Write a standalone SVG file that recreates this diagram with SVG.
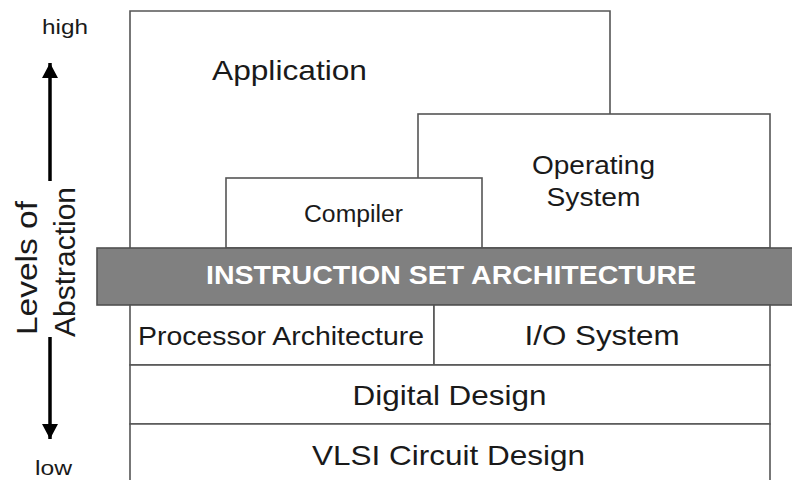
<svg xmlns="http://www.w3.org/2000/svg" width="792" height="480" viewBox="0 0 792 480">
<defs>
<style>
.box{fill:#ffffff;stroke:#555555;stroke-width:1.6}
.t{font-family:"Liberation Sans",Arial,sans-serif;fill:#1a1a1a;text-anchor:middle}
.arrow{stroke:#000;stroke-width:3.5;fill:none}
</style>
<marker id="ah" viewBox="0 0 15 16" refX="15" refY="8" markerWidth="15" markerHeight="16" markerUnits="userSpaceOnUse" orient="auto">
<path d="M0,0 L15,8 L0,16 z" fill="#000"/>
</marker>
</defs>
<rect width="792" height="480" fill="#ffffff"/>
<g id="application">
<path class="box" d="M130,248 L130,11 L610,11 L610,114"/>
<text class="t" x="289.5" y="80" font-size="28" textLength="155" lengthAdjust="spacingAndGlyphs">Application</text>
</g>
<g id="operating-system">
<rect class="box" x="418" y="114" width="352" height="134"/>
<text class="t" x="593.5" y="174" font-size="26" textLength="123" lengthAdjust="spacingAndGlyphs">Operating</text>
<text class="t" x="593.5" y="206" font-size="26" textLength="94" lengthAdjust="spacingAndGlyphs">System</text>
</g>
<g id="compiler">
<rect class="box" x="226" y="178" width="256" height="70"/>
<text class="t" x="353.5" y="222" font-size="23" textLength="99" lengthAdjust="spacingAndGlyphs">Compiler</text>
</g>
<g id="isa">
<rect x="97" y="248" width="700" height="57" fill="#808080" stroke="#505050" stroke-width="1.6"/>
<text class="t" x="451" y="284" font-size="25" font-weight="bold" style="fill:#ffffff" textLength="490" lengthAdjust="spacingAndGlyphs">INSTRUCTION SET ARCHITECTURE</text>
</g>
<g id="processor-architecture">
<rect class="box" x="130" y="305" width="304" height="60"/>
<text class="t" x="281" y="345" font-size="25" textLength="286" lengthAdjust="spacingAndGlyphs">Processor Architecture</text>
</g>
<g id="io-system">
<rect class="box" x="434" y="305" width="336" height="60"/>
<text class="t" x="602" y="345" font-size="28" textLength="155" lengthAdjust="spacingAndGlyphs">I/O System</text>
</g>
<g id="digital-design">
<rect class="box" x="130" y="365" width="640" height="59"/>
<text class="t" x="449.5" y="405" font-size="28" textLength="194" lengthAdjust="spacingAndGlyphs">Digital Design</text>
</g>
<g id="vlsi">
<path class="box" d="M130,482 L130,424 L770,424 L770,482"/>
<text class="t" x="448.5" y="465" font-size="28" textLength="273" lengthAdjust="spacingAndGlyphs">VLSI Circuit Design</text>
</g>
<g id="axis">
<text class="t" x="65" y="34" font-size="21" textLength="46" lengthAdjust="spacingAndGlyphs">high</text>
<text class="t" x="53.5" y="475" font-size="20" textLength="37" lengthAdjust="spacingAndGlyphs">low</text>
<text class="t" font-size="29" transform="translate(37,268) rotate(-90)" textLength="134" lengthAdjust="spacingAndGlyphs">Levels of</text>
<text class="t" font-size="29" transform="translate(75,262) rotate(-90)" textLength="150" lengthAdjust="spacingAndGlyphs">Abstraction</text>
</g>
<g id="connectors">
<line class="arrow" x1="50" y1="181" x2="50" y2="63" marker-end="url(#ah)"/>
<line class="arrow" x1="50" y1="337" x2="50" y2="439" marker-end="url(#ah)"/>
</g>
</svg>
